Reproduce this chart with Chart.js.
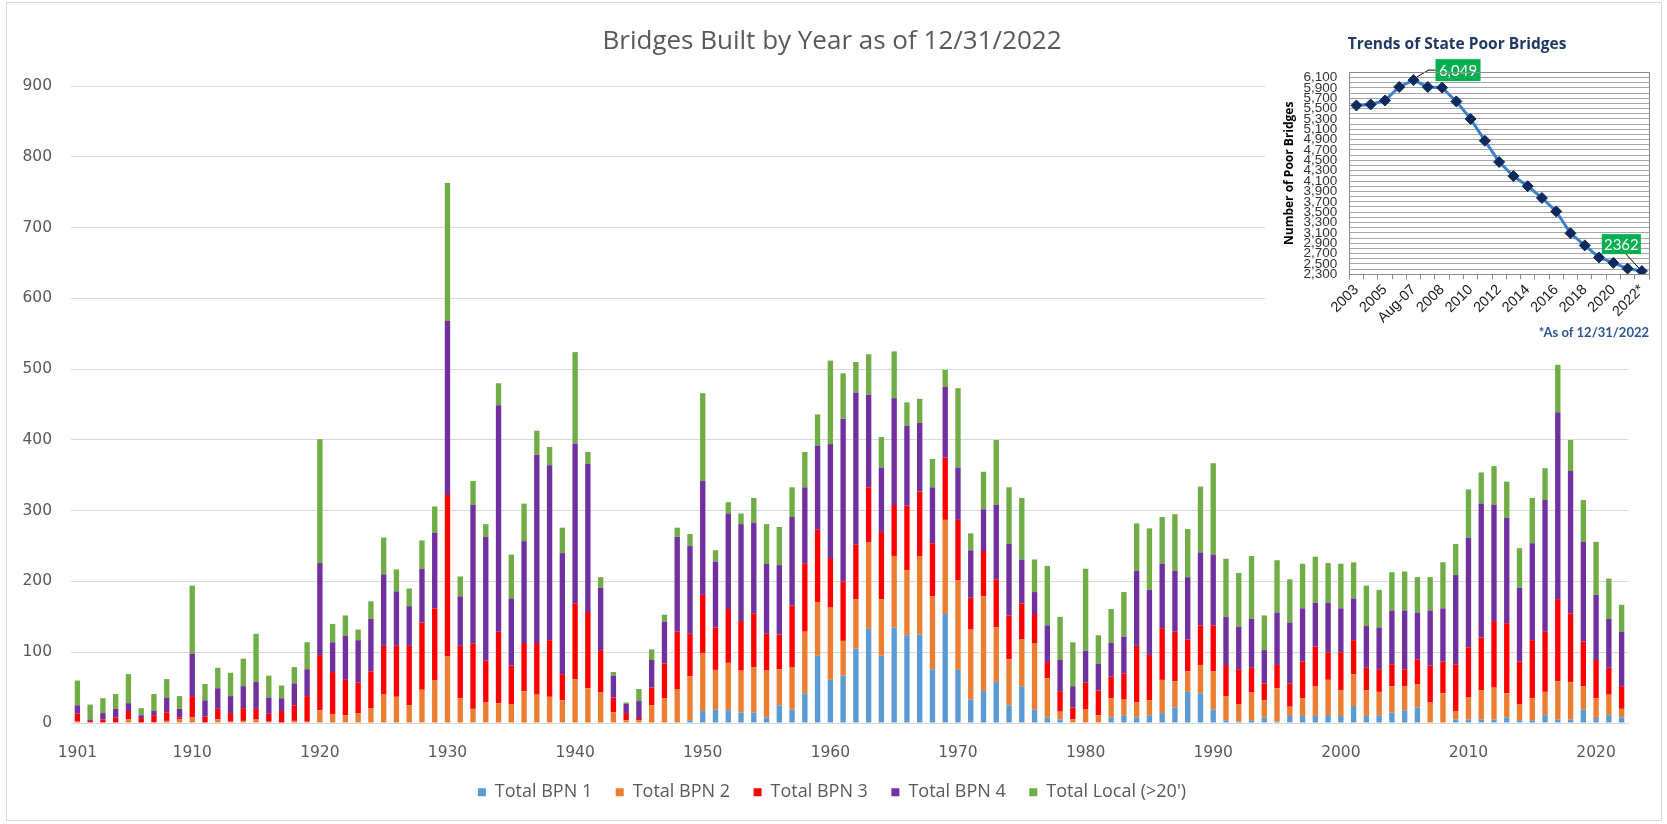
<!DOCTYPE html>
<html><head><meta charset="utf-8">
<script src="https://cdn.jsdelivr.net/npm/chart.js@4.4.1/dist/chart.umd.min.js"></script>
<style>
html,body{margin:0;padding:0;background:#fff;}
#wrap{position:relative;width:1667px;height:824px;overflow:hidden;}
#main{position:absolute;left:0;top:0;}
#inset{position:absolute;left:1265px;top:25px;}
#frame{position:absolute;left:6px;top:2px;width:1654px;height:817px;border:1px solid #D9D9D9;pointer-events:none;}
</style></head><body>
<div id="wrap"><canvas id="main" width="1667" height="824"></canvas><canvas id="inset" width="395" height="322"></canvas><div id="frame"></div></div>
<script>
const years = [
1901,1902,1903,1904,1905,1906,1907,1908,1909,1910,
1911,1912,1913,1914,1915,1916,1917,1918,1919,1920,
1921,1922,1923,1924,1925,1926,1927,1928,1929,1930,
1931,1932,1933,1934,1935,1936,1937,1938,1939,1940,
1941,1942,1943,1944,1945,1946,1947,1948,1949,1950,
1951,1952,1953,1954,1955,1956,1957,1958,1959,1960,
1961,1962,1963,1964,1965,1966,1967,1968,1969,1970,
1971,1972,1973,1974,1975,1976,1977,1978,1979,1980,
1981,1982,1983,1984,1985,1986,1987,1988,1989,1990,
1991,1992,1993,1994,1995,1996,1997,1998,1999,2000,
2001,2002,2003,2004,2005,2006,2007,2008,2009,2010,
2011,2012,2013,2014,2015,2016,2017,2018,2019,2020,
2021,2022];
const bpn1 = [
0,0,0,0,0,0,0,0,0,0,
0,0,0,0,0,0,0,0,0,0,
0,0,0,0,0,0,0,0,0,0,
0,0,0,0,0,0,0,0,0,0,
0,0,0,0,0,0,0,0,4,17,
19,18,15,15,8,25,19,42,95,61,
67,105,133,95,135,124,125,76,154,75,
33,45,58,25,52,19,8,5,0,0,
0,8,11,8,11,14,22,44,42,19,
4,2,4,8,2,10,10,10,11,10,
24,10,11,15,18,22,0,0,5,5,
5,5,8,4,4,11,5,5,19,7,
11,8];
const bpn2 = [
2,1,0,0,5,0,1,3,5,8,
0,5,2,3,5,2,0,3,2,18,
12,11,14,21,41,37,25,47,60,94,
35,20,29,28,26,45,40,37,32,62,
49,43,15,4,4,25,35,48,62,82,
56,67,59,64,66,51,60,87,76,102,
49,70,122,80,101,92,110,103,133,127,
99,134,77,65,66,94,55,11,5,19,
11,27,22,21,21,47,37,29,40,54,
34,24,39,24,47,13,25,42,50,36,
45,36,33,37,34,33,29,42,12,31,
41,45,34,22,31,33,54,53,33,28,
29,12];
const bpn3 = [
11,2,5,8,12,7,10,12,3,30,
9,15,12,18,15,11,17,22,36,78,
60,50,43,52,68,72,84,95,102,228,
74,92,59,101,55,68,73,80,37,107,
108,60,21,10,3,25,49,81,60,82,
60,76,70,76,52,49,87,96,102,70,
84,77,78,95,72,91,92,75,88,85,
45,64,68,62,51,41,23,29,17,38,
35,31,37,80,64,73,70,45,56,65,
44,50,35,24,33,33,52,56,39,54,
48,32,32,31,24,35,52,45,66,71,
75,94,99,61,82,85,116,97,63,54,
38,32];
const bpn4 = [
12,2,9,12,11,4,6,21,12,60,
23,29,24,31,38,23,18,31,38,130,
42,62,60,74,101,77,56,76,107,246,
70,196,175,320,95,144,266,247,171,226,
209,88,31,13,24,39,59,134,124,161,
93,135,137,128,99,98,125,108,119,161,
230,215,131,91,151,113,97,79,100,74,
67,59,105,101,62,31,52,44,30,45,
38,47,52,106,92,91,86,88,103,100,
68,60,69,47,74,86,75,62,70,62,
59,59,59,76,83,66,78,75,126,155,
189,164,149,104,137,186,264,201,141,92,
69,77];
const localBridges = [
35,21,21,21,41,10,24,26,18,96,
23,29,33,39,68,31,18,23,38,175,
26,29,15,25,52,31,25,40,37,195,
28,34,18,31,62,53,34,26,36,129,
17,15,5,2,17,15,10,13,17,124,
16,16,15,35,56,54,42,50,44,118,
64,43,57,43,66,33,34,40,24,112,
24,53,92,80,87,46,84,61,62,116,
40,48,63,67,87,66,80,68,93,129,
82,76,89,49,74,61,63,65,56,63,
51,57,53,54,55,50,47,65,44,68,
44,55,51,56,64,45,67,44,59,75,
57,38];
const seriesNames = ['Total BPN 1','Total BPN 2','Total BPN 3','Total BPN 4',"Total Local (>20')"];
const seriesColors = ['#5B9BD5','#ED7D31','#FF0000','#7030A0','#70AD47'];

const trendLabels = ['2003','2004','2005','2006','Aug-07','Dec-07','2008','2009','2010','2011','2012','2013','2014','2015','2016','2017','2018','2019','2020','2021','2022*'];
const trendValues = [5560,5579,5657,5917,6049,5917,5904,5638,5300,4878,4469,4196,4001,3774,3514,3092,2858,2625,2521,2410,2362];
const trendCallouts = [{index:4, text:'6,049'}, {index:20, text:'2362'}];

Chart.defaults.animation = false;

const mainSeries = [bpn1,bpn2,bpn3,bpn4,localBridges];
new Chart(document.getElementById('main'), {
  type:'bar',
  data:{labels:years, datasets: mainSeries.map((d,i)=>({label:seriesNames[i], data:d, backgroundColor:seriesColors[i], borderWidth:0}))},
  options:{
    responsive:false, animation:false, devicePixelRatio:1,
    layout:{padding:{left:0,right:3,top:0,bottom:12.75}},
    datasets:{bar:{categoryPercentage:1, barPercentage:0.42}},
    plugins:{
      title:{display:true,text:'Bridges Built by Year as of 12/31/2022',color:'#595959',font:{family:'Open Sans',size:26,weight:'normal'},padding:{top:26,bottom:28.8}},
      legend:{position:'bottom',labels:{boxWidth:8,boxHeight:8,padding:23.5,color:'#595959',font:{family:'Open Sans',size:18}}},
      tooltip:{enabled:false}
    },
    scales:{
      x:{stacked:true, grid:{display:false}, border:{color:'#D9D9D9'},
        ticks:{autoSkip:false,maxRotation:0,minRotation:0,padding:13,color:'#595959',font:{family:'DejaVu Sans',size:15.5},
          callback:function(v,i){const y=years[i]; return (i===0||y%10===0)?String(y):'';}},
        afterFit:s=>{s.height=36.75;}},
      y:{stacked:true,min:0,max:900,
        ticks:{stepSize:100,padding:19,color:'#595959',font:{family:'DejaVu Sans',size:15.5}},
        grid:{color:'#D9D9D9',drawTicks:false}, border:{display:false},
        afterFit:s=>{s.width=71;}},
      yRight:{position:'right', display:true, grid:{display:false}, border:{display:false}, ticks:{display:false},
        afterFit:s=>{s.width=36;}}
    }
  }
});

function fmt(v){ return v>=1000 ? Math.floor(v/1000)+','+String(v%1000).padStart(3,'0') : String(v); }

const insetBg = {id:'insetBg', beforeDraw(chart){const c=chart.ctx; c.save(); c.fillStyle='#fff'; c.fillRect(0,0,chart.width,chart.height); c.restore();}};
const boxBorder = {id:'boxBorder', afterDraw(chart){const a=chart.chartArea,c=chart.ctx; c.save(); c.strokeStyle='#8C8C8C'; c.lineWidth=1; c.strokeRect(Math.round(a.left)+0.5,Math.round(a.top)+0.5,Math.round(a.right-a.left),Math.round(a.bottom-a.top)); c.restore();}};
const callouts = {id:'callouts', afterDatasetsDraw(chart){
  const c=chart.ctx, meta=chart.getDatasetMeta(0);
  c.save();
  trendCallouts.forEach((co,k)=>{
    const p=meta.data[co.index]; const px=p.x, py=p.y;
    let bx,by,bw,bh,line;
    if(k===0){ bx=px+22; by=py-21; bw=45; bh=22; line=[[px+3,py-3],[px+15,py-10],[bx,py-10]]; }
    else { bx=px-40; by=py-37; bw=39; bh=20; line=[[px-16,by+bh],[px-3,py-3]]; }
    c.strokeStyle='#000'; c.lineWidth=1; c.beginPath(); c.moveTo(line[0][0],line[0][1]);
    for(let j=1;j<line.length;j++) c.lineTo(line[j][0],line[j][1]); c.stroke();
    c.fillStyle='#00B050'; c.fillRect(bx,by,bw,bh);
    c.fillStyle='#fff'; c.font='15px Lato'; c.textAlign='center'; c.textBaseline='middle';
    c.fillText(co.text,bx+bw/2,by+bh/2+1);
  });
  c.restore();
}};

new Chart(document.getElementById('inset'), {
  type:'line',
  data:{labels:trendLabels, datasets:[{data:trendValues,borderColor:'#3A7FC8',borderWidth:3,pointStyle:'rectRot',pointRadius:5.5,pointBackgroundColor:'#0E2A5C',pointBorderColor:'#0E2A5C',pointBorderWidth:1,tension:0}]},
  options:{responsive:false, animation:false, devicePixelRatio:1,
    layout:{padding:{left:0,right:11,top:0,bottom:0}},
    plugins:{legend:{display:false}, tooltip:{enabled:false},
      title:{display:true,text:'Trends of State Poor Bridges',color:'#1F3864',font:{family:'Open Sans',size:15.5,weight:'bold'},padding:{top:10.7,bottom:18}},
      subtitle:{display:true,position:'bottom',align:'end',text:'*As of 12/31/2022',color:'#2F5597',font:{family:'Lato',size:13,weight:'bold'},padding:{top:0,bottom:6.5}}
    },
    scales:{
      x:{offset:true, grid:{display:true, drawOnChartArea:false, tickLength:5, color:'#8C8C8C', offset:true}, border:{color:'#8C8C8C'},
        ticks:{autoSkip:false,minRotation:45,maxRotation:45,padding:2,color:'#1A1A1A',font:{family:'Liberation Sans',size:14.5},
          callback:(v,i)=> i%2===0?trendLabels[i]:''},
        afterFit:s=>{s.height=50.6;}},
      y:{min:2300,max:6200,
        ticks:{stepSize:100,autoSkip:false,padding:12,color:'#333333',font:{family:'Liberation Sans',size:13.5},
          callback:v=> ((v-2300)%200===0 && v<=6100)? fmt(v):''},
        grid:{color:'#A6A6A6',drawTicks:false}, border:{color:'#8C8C8C'},
        title:{display:true,text:'Number of Poor Bridges',color:'#000',font:{family:'Open Sans',size:12,weight:'bold'},padding:{top:17,bottom:0}},
        afterFit:s=>{s.width=84.3;}}
    }
  },
  plugins:[insetBg, boxBorder, callouts]
});
</script>
</body></html>
